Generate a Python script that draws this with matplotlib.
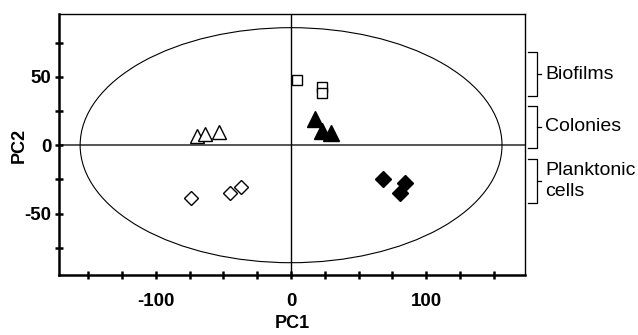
import matplotlib
matplotlib.use("Agg")
import matplotlib.pyplot as plt
from matplotlib.patches import Ellipse

plt.rcParams['font.family'] = ['Liberation Sans', 'DejaVu Sans']

# Data (PC1, PC2 scores)
biofilm_x = [4.5, 23, 23]
biofilm_y = [48, 42.5, 38.5]
colony_x = [18, 23, 29.5]
colony_y = [19, 10.5, 9]
colony_open_x = [-69.5, -63.5, -53]
colony_open_y = [6.5, 8, 9.5]
plank_open_x = [-74, -45, -37]
plank_open_y = [-39, -35, -30.5]
plank_x = [68, 84, 80.5]
plank_y = [-24.5, -28, -35]

ellipse_rx = 156
ellipse_ry = 86

xticks = list(range(-150, 151, 25))
xlabels = ['-100' if t == -100 else '0' if t == 0 else '100' if t == 100 else '' for t in xticks]
yticks = list(range(-75, 76, 25))
ylabels = ['-50' if t == -50 else '0' if t == 0 else '50' if t == 50 else '' for t in yticks]

groups = ['Biofilms', 'Colonies', 'Planktonic\ncells']
group_top = [68, 29, -10]
group_bot = [36, -2, -42]

fig = plt.figure(figsize=(6.38, 3.35), dpi=100)
ax = fig.add_axes([58.5/638, 1-275/335, (525-58.5)/638, (275-14)/335])
ax.set_xlim(-172, 173)
ax.set_ylim(-95, 96)

ax.axhline(0, color='#555555', lw=1.4, zorder=1)
ax.axvline(0, color='black', lw=1.0, zorder=1)
ax.add_patch(Ellipse((0, 0), 2*ellipse_rx, 2*ellipse_ry, fill=False, ec='black', lw=0.8, zorder=1))

ax.plot(biofilm_x, biofilm_y, 's', ms=7, mfc='white', mec='black', mew=1.0, ls='none', zorder=3)
ax.plot(colony_x, colony_y, '^', ms=11.5, mfc='black', mec='black', ls='none', zorder=3)
ax.plot(colony_open_x, colony_open_y, '^', ms=10, mfc='white', mec='black', mew=1.0, ls='none', zorder=3)
ax.plot(plank_open_x, plank_open_y, 'D', ms=7.5, mfc='white', mec='black', mew=1.0, ls='none', zorder=3)
ax.plot(plank_x, plank_y, 'D', ms=8.5, mfc='black', mec='black', ls='none', zorder=3)

for side in ['left', 'bottom']:
    ax.spines[side].set_linewidth(1.8)
for side in ['top', 'right']:
    ax.spines[side].set_linewidth(1.0)

ax.set_xticks(xticks)
ax.set_xticklabels(xlabels)
ax.set_yticks(yticks)
ax.set_yticklabels(ylabels)
ax.tick_params(axis='both', direction='inout', length=6, width=1.8, labelsize=13.5)
ax.tick_params(axis='x', pad=10)
ax.tick_params(axis='y', pad=2)
for lab in ax.get_xticklabels() + ax.get_yticklabels():
    lab.set_fontweight('bold')

ax.set_xlabel('PC1', fontsize=13, fontweight='bold')
ax.set_ylabel('PC2', fontsize=13, fontweight='bold')
ax.xaxis.set_label_coords(0.5005, (275-315)/261)
ax.yaxis.set_label_coords((28-58.5)/466.5, 0.497)

trans = ax.get_yaxis_transform()
x0 = (528-58.5)/466.5
x1 = (537-58.5)/466.5
x2 = (541-58.5)/466.5
xt = (545-58.5)/466.5
for name, top, bot in zip(groups, group_top, group_bot):
    mid = (top + bot) / 2
    ax.plot([x0, x1, x1, x0], [top, top, bot, bot], color='black', lw=0.9, transform=trans, clip_on=False)
    ax.plot([x1, x2], [mid, mid], color='black', lw=0.9, transform=trans, clip_on=False)
    ax.text(xt, mid, name, transform=trans, ha='left', va='center', fontsize=14, linespacing=1.3)

fig.savefig('out.png', dpi=100)
